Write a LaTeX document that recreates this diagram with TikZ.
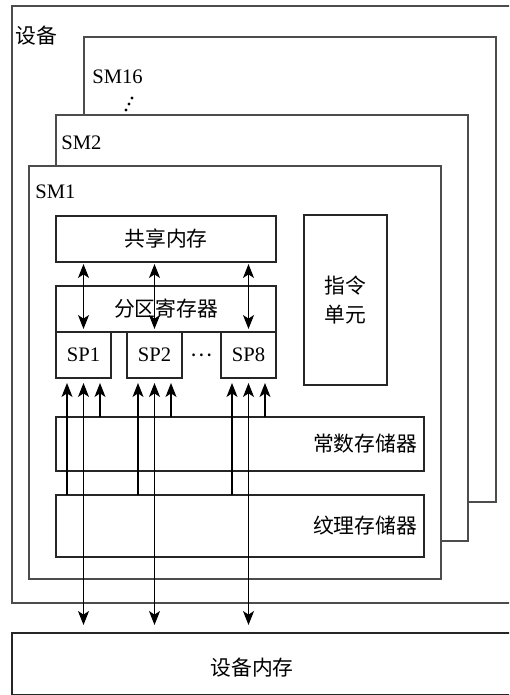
\documentclass[tikz,border=0pt]{standalone}
\usepackage{fontspec}
\setmainfont{Liberation Serif}
\newfontfamily\cjk[Scale=1.04]{Noto Sans CJK SC}
\usetikzlibrary{positioning,arrows.meta,calc}
\tikzset{
  >={Stealth[length=7pt,width=5.5pt,inset=1.8pt]},
  smbox/.style={draw=black!70,line width=0.7pt,fill=white,anchor=north west,
    inner sep=0pt,outer sep=0pt,minimum width=206pt},
  membox/.style={draw=black!85,line width=0.6pt,anchor=north west,inner sep=0pt,
    outer sep=0pt,font=\cjk},
  spbox/.style={draw=black!85,line width=0.6pt,inner sep=0pt,outer sep=0pt,
    minimum width=27.5pt,minimum height=23pt,font=\fontsize{10.3}{12}\selectfont},
  smlbl/.style={anchor=west,inner sep=0pt,font=\fontsize{10.3}{12}\selectfont},
  cnlbl/.style={font=\cjk,inner sep=0pt},
  busarr/.style={->,line width=0.6pt,black},
  dblarr/.style={<->,line width=0.6pt,black},
}
\begin{document}
\begin{tikzpicture}[x=0.5pt,y=-0.5pt]
  \useasboundingbox (0,0) rectangle (509,695);
  \clip (0,0) rectangle (509,695);
  % device and stacked SMs
  \node[smbox,minimum width=262pt,minimum height=298.5pt] (dev) at (12,6) {};
  \node[smlbl,font=\cjk] (dev-lbl) at ($(dev.north west)+(3,30)$) {设备};
  \node[smbox,minimum height=232.5pt] (sm16) at (84,37) {};
  \node[smlbl] (sm16-lbl) at ($(sm16.north west)+(8,40)$) {SM16};
  \foreach \i in {0,1,2}
    \fill ($(126,110)+(3*\i,-6*\i)$) circle (0.8pt);
  \node[smbox,minimum height=213pt] (sm2) at (56,115) {};
  \node[smlbl] (sm2-lbl) at ($(sm2.north west)+(5,28)$) {SM2};
  \node[smbox,minimum height=206.5pt] (sm1) at (29,166) {};
  \node[smlbl] (sm1-lbl) at ($(sm1.north west)+(6,26)$) {SM1};
  % memories inside SM1
  \node[membox,minimum width=110pt,minimum height=23pt] (shm) at (56,216) {共享内存};
  \node[membox,minimum width=110pt,minimum height=23pt,below=12pt of shm] (preg)
    {分区寄存器};
  \node[spbox,anchor=north west] (sp1) at (preg.south west) {SP1};
  \node[spbox,right=8pt of sp1] (sp2) {SP2};
  \node[spbox,anchor=north east] (sp8) at (preg.south east) {SP8};
  \node[cnlbl] (sp-dots) at ($(sp2.east)!0.5!(sp8.west)$) {⋯};
  \node[membox,minimum width=41.5pt,minimum height=85pt,align=center,
    font={\cjk\fontsize{10}{14.5}\selectfont}] (iu) at (304,215) {指令\\单元};
  \node[membox,minimum height=27pt,text width=177pt,inner xsep=3.5pt,align=right]
    (cmem) at (56,417) {常数存储器};
  \node[membox,minimum height=31pt,text width=177pt,inner xsep=3.5pt,align=right]
    (tmem) at (56,495) {纹理存储器};
  \node[membox,minimum width=262pt,minimum height=31pt] (devmem) at (12,633) {};
  \node[cnlbl] (devmem-lbl) at ($(devmem.north west)+(240,35)$) {设备内存};
  % data paths
  \foreach \s in {sp1,sp2,sp8}{
    \coordinate (\s-l) at ([xshift=-8.25pt]\s.south);
    \coordinate (\s-r) at ([xshift=8.25pt]\s.south);
    \draw[dblarr,shorten <=1pt,shorten >=1.5pt] (shm.south -| \s) -- (\s.north);
    \draw[dblarr,shorten <=2.5pt,shorten >=4pt] (\s.south) -- (\s.south |- devmem.north);
    \draw[busarr,shorten >=2.5pt] (\s-l |- tmem.north) -- (\s-l);
    \draw[busarr,shorten >=2.5pt] (\s-r |- cmem.north) -- (\s-r);
  }
\end{tikzpicture}
\end{document}
